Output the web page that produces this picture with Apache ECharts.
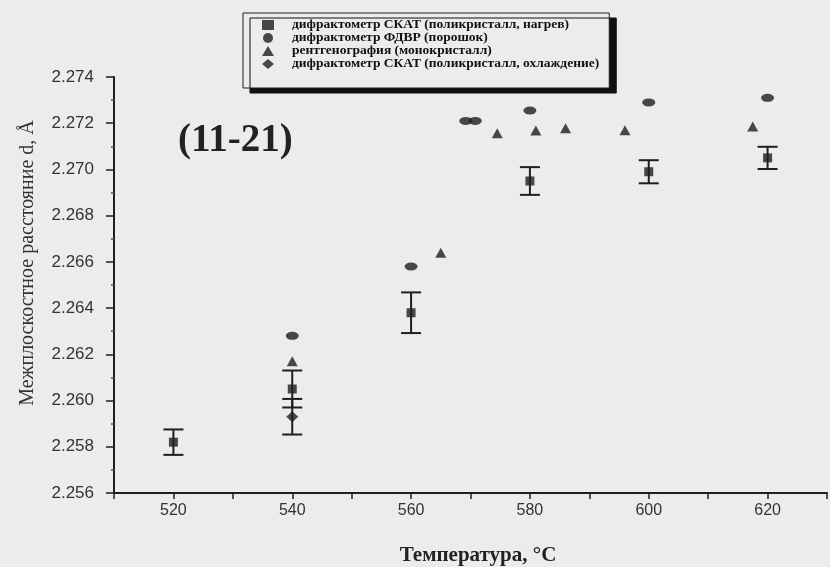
<!DOCTYPE html>
<html>
<head>
<meta charset="utf-8">
<script src="https://cdn.jsdelivr.net/npm/echarts@6/dist/echarts.min.js"></script>
<style>html,body{margin:0;padding:0;background:#ececec;}#c{width:830px;height:567px;}</style>
</head>
<body>
<div id="c"></div>
<script>
// Series names (legend)
const nameHeat = 'дифрактометр СКАТ (поликристалл, нагрев)';
const namePowder = 'дифрактометр ФДВР (порошок)';
const nameXray = 'рентгенография (монокристалл)';
const nameCool = 'дифрактометр СКАТ (поликристалл, охлаждение)';

// СКАТ heating (squares with error bars)
const heatT = [520, 540, 560, 580, 600, 620];
const heatD = [2.2582, 2.2605, 2.2638, 2.2695, 2.2699, 2.2705];
const heatErr = [0.00055, 0.0008, 0.00088, 0.0006, 0.0005, 0.00048];

// ФДВР powder (circles)
const powderT = [540, 560, 569.2, 570.8, 580, 600, 620];
const powderD = [2.2628, 2.2658, 2.2721, 2.2721, 2.27255, 2.2729, 2.2731];

// X-ray single crystal (triangles)
const xrayT = [540, 565, 574.5, 581, 586, 596, 617.5];
const xrayD = [2.2617, 2.2664, 2.27157, 2.27168, 2.27178, 2.2717, 2.27186];

// СКАТ cooling (diamonds with error bars)
const coolT = [540];
const coolD = [2.2593];
const coolErr = [0.00077];

// Axis ticks
const yTicks = [2.256, 2.258, 2.260, 2.262, 2.264, 2.266, 2.268, 2.270, 2.272, 2.274];
const xLabels = [520, 540, 560, 580, 600, 620];

const ink = '#1e1e1e';
const zip = (a, b) => a.map((v, i) => [v, b[i]]);
const zip3 = (a, b, c) => a.map((v, i) => [v, b[i], c[i]]);

function errRender(half) {
  return function (params, api) {
    const x = api.value(0), y = api.value(1), e = api.value(2);
    const t = api.coord([x, y + e]);
    const b = api.coord([x, y - e]);
    const st = { stroke: ink, lineWidth: 2 };
    return {
      type: 'group',
      children: [
        { type: 'line', shape: { x1: t[0], y1: t[1], x2: b[0], y2: b[1] }, style: st },
        { type: 'line', shape: { x1: t[0] - half, y1: t[1], x2: t[0] + half, y2: t[1] }, style: st },
        { type: 'line', shape: { x1: b[0] - half, y1: b[1], x2: b[0] + half, y2: b[1] }, style: st }
      ]
    };
  };
}

const chart = echarts.init(document.getElementById('c'), null, { renderer: 'canvas' });
chart.setOption({
  backgroundColor: '#ececec',
  animation: false,
  grid: { left: 114, top: 77, bottom: 74, right: -5, containLabel: false },
  xAxis: {
    type: 'value', min: 510, max: 630, interval: 10,
    axisLine: { show: true, onZero: false, lineStyle: { color: ink, width: 2 } },
    axisTick: { show: true, length: 6, lineStyle: { color: ink, width: 1.5 } },
    axisLabel: {
      margin: 10, color: '#333', fontSize: 16, fontFamily: 'Liberation Sans',
      formatter: v => (xLabels.indexOf(v) >= 0 ? String(v) : '')
    },
    splitLine: { show: false }
  },
  yAxis: {
    type: 'value', min: 2.256, max: 2.274, interval: 0.002,
    axisLine: { show: true, onZero: false, lineStyle: { color: ink, width: 2 } },
    axisTick: { show: true, length: 8, lineStyle: { color: ink, width: 1.5 } },
    minorTick: { show: true, splitNumber: 2, length: 3, lineStyle: { color: '#555', width: 1.5 } },
    axisLabel: {
      margin: 20, color: '#333', fontSize: 17, fontFamily: 'Liberation Sans',
      formatter: v => {
        const f = Number(v).toFixed(3);
        return yTicks.some(t => t.toFixed(3) === f) ? f : '';
      }
    },
    splitLine: { show: false }
  },
  legend: {
    orient: 'vertical', left: 243, top: 13,
    padding: [5, 10, 17, 19],
    itemGap: -1, itemWidth: 12, itemHeight: 10,
    backgroundColor: '#ececec', borderColor: ink, borderWidth: 1,
    shadowColor: '#111', shadowBlur: 0, shadowOffsetX: 7, shadowOffsetY: 5,
    data: [nameHeat, namePowder, nameXray, nameCool],
    textStyle: { fontFamily: 'Liberation Serif', fontWeight: 'bold', fontSize: 13.5, color: '#111', lineHeight: 12, padding: [0, 0, 0, 13] }
  },
  graphic: [
    { type: 'text', left: 178, top: 121, style: { text: '(11-21)', font: 'bold 39px "Liberation Serif"', fill: '#222' } },
    { type: 'text', x: 478, y: 556, style: { text: 'Температура, °C', font: 'bold 21px "Liberation Serif"', fill: '#222', align: 'center', verticalAlign: 'middle' } },
    { type: 'text', x: 28, y: 263, rotation: Math.PI / 2, style: { text: 'Межплоскостное расстояние d, Å', font: '20px "Liberation Serif"', fill: '#333', align: 'center', verticalAlign: 'middle' } }
  ],
  series: [
    { type: 'custom', name: 'errHeat', renderItem: errRender(10), data: zip3(heatT, heatD, heatErr), z: 2, silent: true },
    { type: 'custom', name: 'errCool', renderItem: errRender(10), data: zip3(coolT, coolD, coolErr), z: 2, silent: true },
    { type: 'scatter', name: nameHeat, symbol: 'rect', symbolSize: 9, itemStyle: { color: ink }, data: zip(heatT, heatD), z: 3 },
    { type: 'scatter', name: namePowder, symbol: 'circle', symbolSize: [13, 8], itemStyle: { color: ink }, data: zip(powderT, powderD), z: 3 },
    { type: 'scatter', name: nameXray, symbol: 'triangle', symbolSize: [11, 10], itemStyle: { color: ink }, data: zip(xrayT, xrayD), z: 3 },
    { type: 'scatter', name: nameCool, symbol: 'diamond', symbolSize: [12, 11], itemStyle: { color: ink }, data: zip(coolT, coolD), z: 3 }
  ]
});
</script>
</body>
</html>
